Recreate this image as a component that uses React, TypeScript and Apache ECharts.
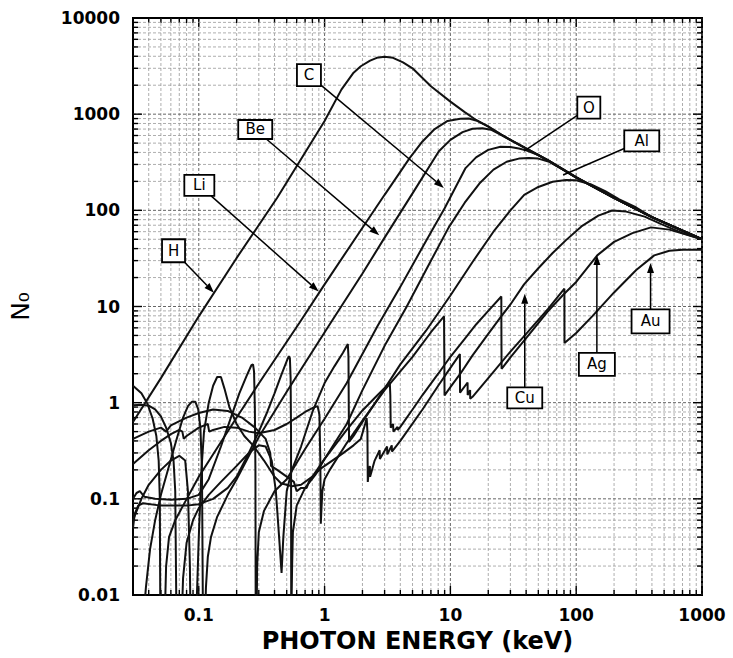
import React, { useEffect, useRef } from 'react';
import * as echarts from 'echarts';

const xTickValues = [0.1, 1, 10, 100, 1000];
const xTickLabels = ['0.1', '1', '10', '100', '1000'];
const yTickValues = [0.01, 0.1, 1, 10, 100, 1000, 10000];
const yTickLabels = ['0.01', '0.1', '1', '10', '100', '1000', '10000'];

const seriesNames = ['H', 'Li', 'Be', 'C', 'O', 'Al', 'Cu', 'Ag', 'Au'];

const H = [[0.03,0.63],[0.05,1.8],[0.1,7.9],[0.2,32],[0.42,135],[1,850],[1.36,1800],[1.7,2700],[1.94,3150],[2.3,3600],[2.6,3850],[3.0,3950],[3.5,3850],[4.2,3450],[5,3000],[7,1950],[10,1350],[13,1050],[16,870],[20,740],[25,620],[30,540],[40,440],[60,330],[100,220],[200,135],[400,85],[1000,50]];

const Li = [[0.03,1.5],[0.035,1.25],[0.039,0.98],[0.043,0.68],[0.046,0.45],[0.048,0.25],[0.049,0.1],[0.0495,0.005],[0.0535,0.005],[0.055,0.02],[0.058,0.04],[0.065,0.06],[0.075,0.085],[0.1,0.17],[0.2,0.7],[0.3,1.58],[0.628,6.7],[1,17],[2,66],[3,145],[4.74,349],[6,520],[7.5,700],[9.5,850],[12,895],[14,900],[16,860],[20,745],[25,622],[30,541],[40,441],[60,331],[100,221],[200,135],[400,85],[1000,50]];

const Be = [[0.036,0.005],[0.038,0.012],[0.041,0.03],[0.045,0.06],[0.05,0.11],[0.058,0.22],[0.066,0.4],[0.075,0.7],[0.082,0.92],[0.088,1.02],[0.094,1.02],[0.099,0.85],[0.103,0.55],[0.106,0.2],[0.108,0.005],[0.112,0.005],[0.114,0.012],[0.118,0.025],[0.125,0.04],[0.14,0.065],[0.17,0.11],[0.2,0.16],[0.3,0.44],[0.5,1.3],[1.074,6.24],[2,22],[3,52],[5,150],[8.1,412],[10,540],[12.5,650],[15,705],[18,715],[21,690],[25,612],[30,538],[40,438],[60,329],[100,219],[200,135],[400,85],[1000,50]];

const C = [[0.03,0.1],[0.032,0.115],[0.034,0.12],[0.037,0.105],[0.045,0.1],[0.06,0.098],[0.08,0.1],[0.1,0.11],[0.12,0.16],[0.15,0.35],[0.18,0.7],[0.21,1.25],[0.24,1.9],[0.262,2.45],[0.27,2.5],[0.275,2.1],[0.279,0.9],[0.282,0.2],[0.2835,0.005],[0.288,0.005],[0.291,0.02],[0.3,0.045],[0.33,0.075],[0.4,0.12],[0.5,0.16],[0.7,0.33],[1,0.68],[1.5,1.6],[2.63,6.24],[4,16],[6.4,48],[9,105],[13.2,275],[16,355],[20,425],[25,458],[30,455],[35,440],[40,420],[50,375],[60,329],[100,219],[200,134],[400,85],[1000,50]];

const O = [[0.03,0.05],[0.031,0.07],[0.033,0.085],[0.036,0.09],[0.05,0.085],[0.08,0.085],[0.1,0.088],[0.13,0.1],[0.17,0.13],[0.2,0.17],[0.25,0.3],[0.3,0.5],[0.35,0.8],[0.4,1.25],[0.45,1.9],[0.5,2.7],[0.52,3.05],[0.53,2.9],[0.537,1.8],[0.541,0.5],[0.543,0.005],[0.548,0.005],[0.552,0.02],[0.56,0.045],[0.6,0.085],[0.7,0.13],[0.85,0.18],[1,0.26],[1.5,0.6],[2,1.35],[3,3.9],[4.5,10],[6.4,24],[9.7,66.5],[13,120],[17,190],[22,265],[28,320],[35,345],[42,350],[50,345],[60,322],[80,262],[100,220],[200,135],[400,85],[1000,50]];

const Al = [[0.03,0.94],[0.035,0.95],[0.04,0.93],[0.045,0.85],[0.05,0.72],[0.055,0.55],[0.06,0.38],[0.063,0.25],[0.065,0.12],[0.0665,0.005],[0.073,0.005],[0.075,0.015],[0.08,0.035],[0.09,0.06],[0.1,0.08],[0.12,0.11],[0.15,0.15],[0.2,0.22],[0.25,0.3],[0.3,0.36],[0.34,0.35],[0.38,0.25],[0.41,0.12],[0.435,0.04],[0.455,0.017],[0.47,0.04],[0.5,0.12],[0.55,0.2],[0.65,0.35],[0.8,0.8],[1,1.6],[1.2,2.4],[1.4,3.3],[1.53,4.07],[1.548,3.0],[1.558,0.8],[1.565,0.39],[1.7,0.45],[2,0.63],[3,1.4],[4,2.5],[6.4,5.6],[10,13],[15,29],[22.4,62],[30,100],[38.6,145],[50,175],[65,198],[83,207],[100,205],[130,187],[170,158],[220,130],[300,107],[400,85],[1000,50]];

const Cu = [[0.03,0.23],[0.04,0.32],[0.05,0.4],[0.06,0.47],[0.07,0.52],[0.074,0.5],[0.076,0.42],[0.08,0.45],[0.1,0.55],[0.118,0.6],[0.121,0.5],[0.13,0.52],[0.16,0.56],[0.2,0.55],[0.25,0.5],[0.3,0.48],[0.4,0.52],[0.5,0.6],[0.6,0.7],[0.7,0.8],[0.8,0.88],[0.88,0.92],[0.91,0.75],[0.925,0.25],[0.933,0.055],[0.945,0.08],[0.96,0.12],[1.0,0.16],[1.1,0.2],[1.5,0.38],[2,0.65],[3,1.35],[5,3.0],[7,5.4],[8.9,7.9],[8.95,3.0],[8.985,1.19],[10,1.45],[12,2.0],[15,3.1],[20,5.2],[25,7.7],[30,10.5],[38.5,17],[50,25],[65,36],[83,49],[110,68],[150,88],[193,99.5],[250,97],[350,86],[475,72],[700,58],[1000,50]];

const Ag = [[0.03,0.42],[0.04,0.5],[0.05,0.55],[0.055,0.5],[0.06,0.58],[0.08,0.7],[0.1,0.78],[0.13,0.85],[0.17,0.82],[0.22,0.7],[0.28,0.55],[0.34,0.42],[0.37,0.3],[0.375,0.22],[0.42,0.2],[0.5,0.17],[0.57,0.15],[0.6,0.12],[0.65,0.13],[0.72,0.13],[0.75,0.15],[1,0.26],[1.5,0.52],[2,0.83],[2.5,1.12],[3,1.42],[3.3,1.62],[3.33,1.2],[3.355,0.55],[3.5,0.6],[3.525,0.5],[3.8,0.56],[3.81,0.52],[4,0.56],[5,0.85],[6,1.2],[8,2.0],[10,3.0],[13,4.6],[16,6.5],[20,9.0],[25.4,12.7],[25.45,5],[25.52,2.25],[30,2.95],[40,4.7],[60,9],[80,13.5],[100,18],[147,34],[200,47],[280,58],[393,66.5],[550,63],[750,56],[1000,50]];

const Au = [[0.03,0.06],[0.035,0.1],[0.04,0.14],[0.05,0.2],[0.06,0.25],[0.07,0.28],[0.078,0.25],[0.082,0.12],[0.085,0.02],[0.086,0.005],[0.095,0.005],[0.1,0.04],[0.105,0.2],[0.11,0.5],[0.12,1.0],[0.13,1.5],[0.14,1.85],[0.15,1.85],[0.16,1.4],[0.175,0.9],[0.2,0.6],[0.23,0.45],[0.27,0.36],[0.33,0.25],[0.4,0.17],[0.45,0.145],[0.55,0.135],[0.65,0.14],[0.8,0.17],[0.95,0.21],[1.36,0.29],[1.7,0.36],[1.94,0.42],[2.1,0.6],[2.16,0.69],[2.19,0.5],[2.205,0.15],[2.25,0.2],[2.29,0.22],[2.3,0.17],[2.5,0.25],[2.74,0.32],[2.75,0.26],[3.14,0.35],[3.15,0.29],[3.42,0.36],[3.43,0.31],[4,0.4],[6,0.85],[8,1.5],[10,2.3],[11.9,3.2],[11.93,1.27],[13.7,1.62],[13.72,1.2],[14.35,1.35],[14.37,1.1],[15,1.15],[20,1.8],[30,3.4],[40,5.2],[60,9.5],[80.6,15.3],[80.72,4.17],[100,5.3],[134,7.9],[200,14],[300,24],[417,34],[550,38],[700,39],[1000,39]];

const seriesData = [H, Li, Be, C, O, Al, Cu, Ag, Au];

// annotation boxes: label, box centre (data coords), arrow tip (data coords)
const annotationNames = ['H', 'Li', 'Be', 'C', 'O', 'Al', 'Cu', 'Ag', 'Au'];
const annotationAt = [[0.063, 38], [0.101, 182], [0.281, 693], [0.751, 2550], [126, 1170], [332, 528], [39, 1.12], [146, 2.5], [390, 7.0]];
const annotationTip = [[0.132, 13.9], [0.898, 14.3], [2.72, 55], [8.87, 171], [38.5, 412], [78.7, 233], [39, 13.6], [146, 34.3], [390, 28.4]];
const annotationArrow = [true, true, true, true, false, false, true, true, true];
const boxSize = [[23, 23], [30, 21], [34, 19], [24, 22], [23, 22], [35, 21], [35, 21], [36, 23], [38, 24]];

function tickLabel(v: number, values: number[], labels: string[]) {
  for (let i = 0; i < values.length; i++) {
    if (Math.abs(Math.log10(v) - Math.log10(values[i])) < 1e-6) return labels[i];
  }
  return '';
}

function gridValues(lo: number, hi: number) {
  const out: number[] = [];
  for (let e = -3; e <= 4; e++) {
    for (let m = 1; m <= 9; m++) {
      const v = m * Math.pow(10, e);
      if (v > lo * 1.0001 && v <= hi * 1.0001) out.push(parseFloat(v.toPrecision(6)));
    }
  }
  return out;
}

function isPow10(v: number) {
  const l = Math.log10(v);
  return Math.abs(l - Math.round(l)) < 1e-6;
}

export default function App() {
  const ref = useRef<HTMLDivElement>(null);
  useEffect(() => {
    if (!ref.current) return;
    const chart = echarts.init(ref.current, undefined, { renderer: 'svg' });
    const xGrid = gridValues(0.03, 1000);
    const yGrid = gridValues(0.01, 10000).filter((v) => v < 9999);

    const lineSeries = seriesNames.map((name, i) => ({
      name,
      type: 'line',
      data: seriesData[i],
      showSymbol: false,
      symbol: 'none',
      clip: true,
      z: 3,
      lineStyle: { color: '#111', width: 2 },
      emphasis: { disabled: true },
    }));

    const option: any = {
      animation: false,
      backgroundColor: '#fff',
      grid: { left: 120, right: 31, top: 18, bottom: 55, show: true, borderColor: '#000', borderWidth: 2, backgroundColor: 'transparent' },
      xAxis: {
        type: 'log',
        logBase: 10,
        min: 0.03,
        max: 1000,
        splitNumber: 5,
        axisLine: { show: false },
        axisTick: { show: false },
        splitLine: { show: false },
        axisLabel: {
          formatter: (v: number) => tickLabel(v, xTickValues, xTickLabels),
          fontSize: 17,
          fontWeight: 'bold',
          fontFamily: 'DejaVu Sans',
          color: '#000',
          margin: 11,
          showMaxLabel: true,
          showMinLabel: true,
        },
        name: 'PHOTON ENERGY (keV)',
        nameLocation: 'middle',
        nameGap: 34,
        nameTextStyle: { fontSize: 24, fontWeight: 'bold', fontFamily: 'DejaVu Sans', color: '#000' },
      },
      yAxis: {
        type: 'log',
        logBase: 10,
        min: 0.01,
        max: 10000,
        splitNumber: 6,
        axisLine: { show: false },
        axisTick: { show: false },
        splitLine: { show: false },
        axisLabel: {
          formatter: (v: number) => tickLabel(v, yTickValues, yTickLabels),
          fontSize: 17,
          fontWeight: 'bold',
          fontFamily: 'DejaVu Sans',
          color: '#000',
          margin: 13,
          showMaxLabel: true,
          showMinLabel: true,
        },
        name: 'N₀',
        nameLocation: 'middle',
        nameGap: 100,
        nameRotate: 90,
        nameTextStyle: { fontSize: 25, fontFamily: 'DejaVu Sans', color: '#000' },
      },
      series: [
        {
          type: 'custom',
          silent: true,
          z: 1,
          data: xGrid.map((v) => [v, 1]),
          renderItem: (params: any, api: any) => {
            const v = api.value(0);
            const p = api.coord([v, 1]);
            const cs = params.coordSys;
            const major = isPow10(v);
            const tl = major ? 9 : 5;
            return {
              type: 'group',
              children: [
                { type: 'line', shape: { x1: p[0], y1: cs.y, x2: p[0], y2: cs.y + cs.height }, style: { stroke: major ? '#666' : '#999', lineWidth: major ? 1 : 0.8, lineDash: [3, 2] } },
                { type: 'line', shape: { x1: p[0], y1: cs.y + cs.height, x2: p[0], y2: cs.y + cs.height - tl }, style: { stroke: '#000', lineWidth: 1.4 } },
                { type: 'line', shape: { x1: p[0], y1: cs.y, x2: p[0], y2: cs.y + tl }, style: { stroke: '#000', lineWidth: 1.4 } },
              ],
            };
          },
        },
        {
          type: 'custom',
          silent: true,
          z: 1,
          data: yGrid.map((v) => [1, v]),
          renderItem: (params: any, api: any) => {
            const v = api.value(1);
            const p = api.coord([1, v]);
            const cs = params.coordSys;
            const major = isPow10(v);
            const tl = major ? 9 : 5;
            return {
              type: 'group',
              children: [
                { type: 'line', shape: { x1: cs.x, y1: p[1], x2: cs.x + cs.width, y2: p[1] }, style: { stroke: major ? '#666' : '#999', lineWidth: major ? 1 : 0.8, lineDash: [3, 2] } },
                { type: 'line', shape: { x1: cs.x, y1: p[1], x2: cs.x + tl, y2: p[1] }, style: { stroke: '#000', lineWidth: 1.4 } },
                { type: 'line', shape: { x1: cs.x + cs.width, y1: p[1], x2: cs.x + cs.width - tl, y2: p[1] }, style: { stroke: '#000', lineWidth: 1.4 } },
              ],
            };
          },
        },
        ...lineSeries,
        {
          type: 'custom',
          silent: true,
          z: 5,
          data: annotationNames.map((n, i) => [annotationAt[i][0], annotationAt[i][1], annotationTip[i][0], annotationTip[i][1], i]),
          renderItem: (params: any, api: any) => {
            const i = api.value(4);
            const c = api.coord([api.value(0), api.value(1)]);
            const t = api.coord([api.value(2), api.value(3)]);
            const hw = boxSize[i][0] / 2;
            const hh = boxSize[i][1] / 2;
            const dx = t[0] - c[0];
            const dy = t[1] - c[1];
            const len = Math.sqrt(dx * dx + dy * dy) || 1;
            const s = Math.min(Math.abs(dx) > 1e-6 ? hw / Math.abs(dx) : Infinity, Math.abs(dy) > 1e-6 ? hh / Math.abs(dy) : Infinity);
            const sx = c[0] + dx * s;
            const sy = c[1] + dy * s;
            const ux = dx / len;
            const uy = dy / len;
            const ah = 10;
            const aw = 3.5;
            const bx = t[0] - ux * ah;
            const by = t[1] - uy * ah;
            const children: any[] = [
              { type: 'line', shape: { x1: sx, y1: sy, x2: annotationArrow[i] ? bx : t[0], y2: annotationArrow[i] ? by : t[1] }, style: { stroke: '#000', lineWidth: 1.5 } },
            ];
            if (annotationArrow[i]) {
              children.push({ type: 'polygon', shape: { points: [[t[0], t[1]], [bx - uy * aw, by + ux * aw], [bx + uy * aw, by - ux * aw]] }, style: { fill: '#000' } });
            }
            children.push({ type: 'rect', shape: { x: c[0] - hw, y: c[1] - hh, width: hw * 2, height: hh * 2 }, style: { fill: '#fff', stroke: '#000', lineWidth: 1.8 } });
            children.push({ type: 'text', x: c[0], y: c[1], style: { text: annotationNames[i], fontSize: 15, fontFamily: 'DejaVu Sans', fill: '#000', align: 'center', verticalAlign: 'middle' } });
            return { type: 'group', children };
          },
        },
      ],
    };
    chart.setOption(option);
    return () => chart.dispose();
  }, []);
  return <div ref={ref} style={{ position: 'fixed', left: 0, top: 0, width: 733, height: 658, background: '#fff' }} />;
}
